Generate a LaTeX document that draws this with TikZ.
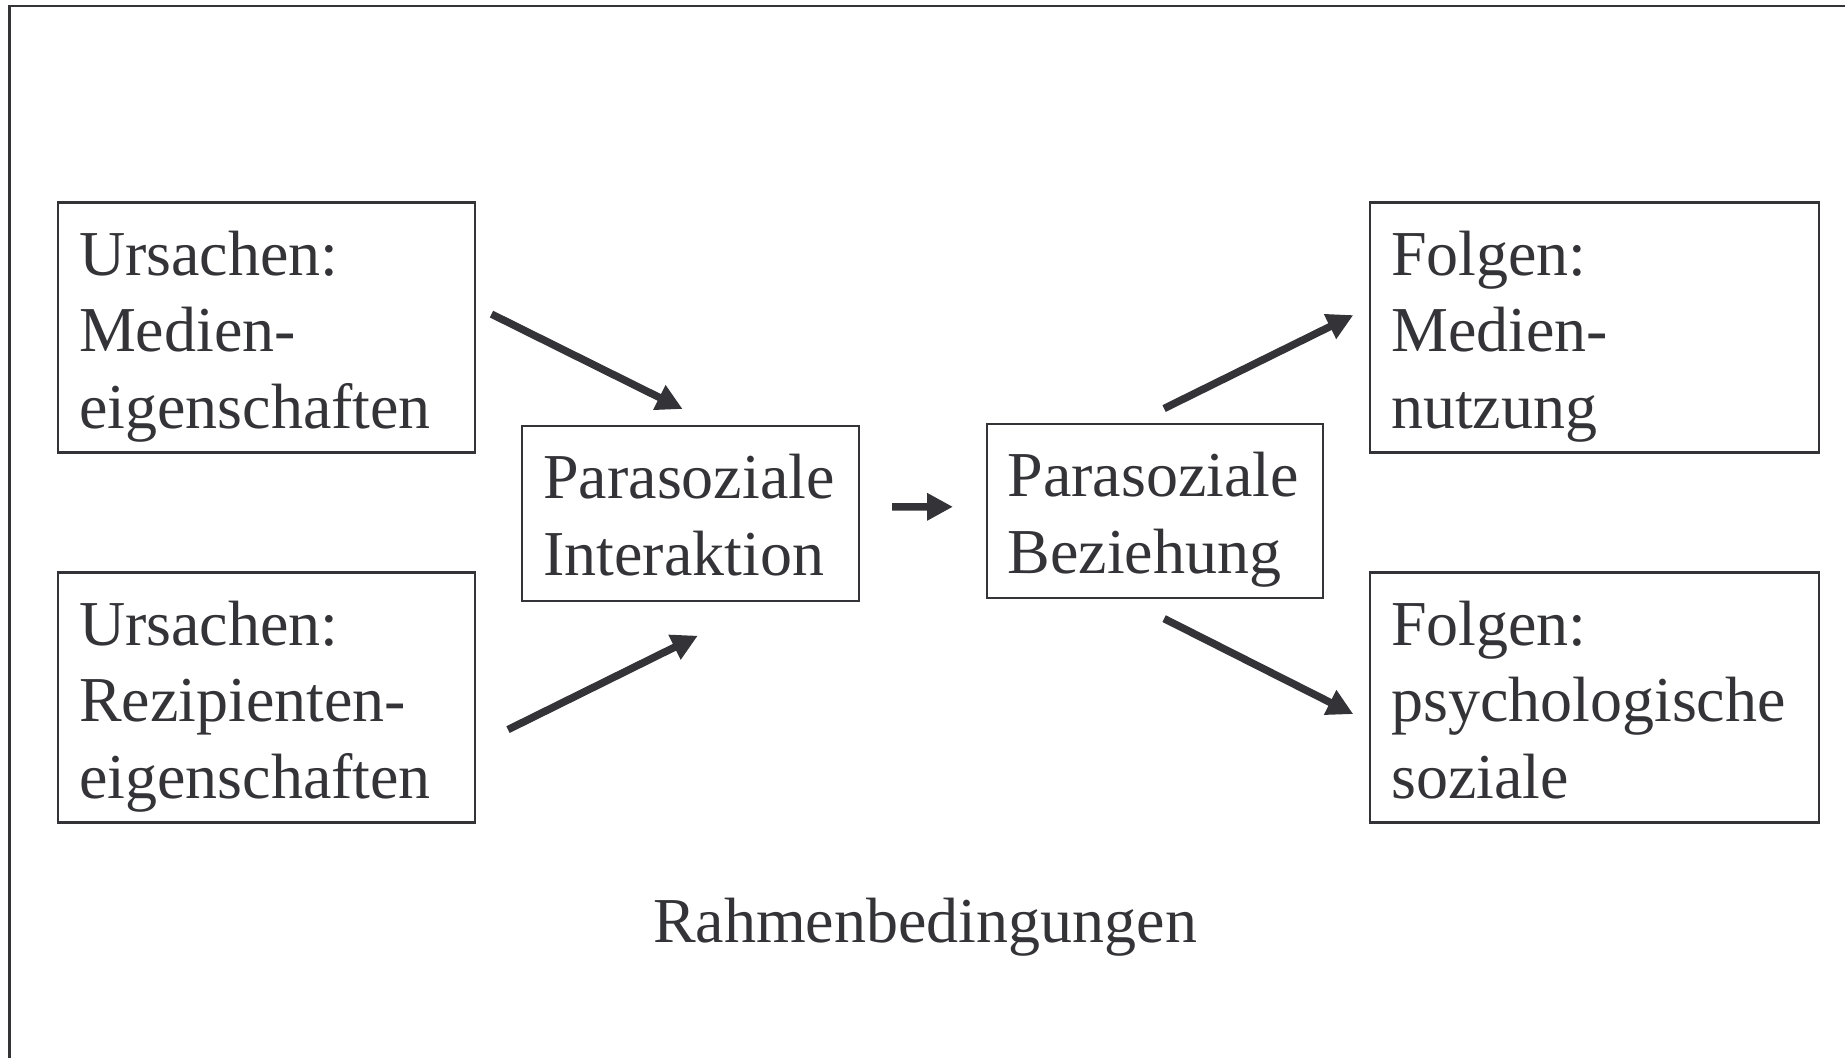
\documentclass[tikz,border=0pt]{standalone}
\usepackage{fontspec}
\setmainfont{Liberation Serif}
\usepackage{xcolor}
\usetikzlibrary{positioning,arrows.meta}
\definecolor{ink}{RGB}{52,51,56}
% box contents: height, width, lines (first baseline fixed below the top)
\newcommand{\boxlines}[3]{\parbox[c][#1][t]{#2}{\rule{0pt}{72.5pt}#3}}

\begin{document}
\begin{tikzpicture}[
    x=1pt, y=-1pt,
    -{Triangle[length=26pt,width=26pt]},
    line width=7.5pt,
    draw=ink,
    text=ink,
    font=\fontsize{64}{76.5}\selectfont
]

\tikzstyle{box}=[
    draw,
    rectangle,
    line width=2.2pt,
    anchor=north west,
    inner xsep=21pt,
    inner ysep=0pt
]

\useasboundingbox (0,0) rectangle (1845,1058);
\draw[-, line width=2.2pt] (9.5,1058) -- (9.5,6) -- (1845,6);

\node[box] (ursMedien) at (57,201.4) {\boxlines{250pt}{374.5pt}{Ursachen:\\Medien-\\eigenschaften}};
\node[box] (ursRezip) at (57,571.4) {\boxlines{250pt}{374.5pt}{Ursachen:\\Rezipienten-\\eigenschaften}};

\node[box] (parInt) at (521.2,425.2) {\boxlines{174.3pt}{294.6pt}{Parasoziale\\Interaktion}};
\node[box] (parBez) at (985.5,422.9) {\boxlines{174pt}{294.6pt}{Parasoziale\\Beziehung}};

\node[box] (folNutz) at (1369,201.4) {\boxlines{250pt}{406.8pt}{Folgen:\\Medien-\\nutzung}};
\node[box] (folPsych) at (1369,571.4) {\boxlines{250pt}{406.8pt}{Folgen:\\psychologische\\soziale}};

\node[anchor=base] (rahmen) at (925,942) {Rahmenbedingungen};

\draw ([shift={(15.8,-13.4)}]ursMedien.east) -- ([shift={(-8,-16.2)}]parInt.north);
\draw ([shift={(32.3,32.1)}]ursRezip.east) -- ([shift={(7.2,34)}]parInt.south);
\draw ([shift={(32.2,-6.6)}]parInt.east) -- ([shift={(-32.5,-4.2)}]parBez.west);
\draw ([shift={(9.2,-14.4)}]parBez.north) -- ([shift={(-15.7,-12.4)}]folNutz.west);
\draw ([shift={(9.2,19.5)}]parBez.south) -- ([shift={(-15.7,16.6)}]folPsych.west);

\end{tikzpicture}
\end{document}
